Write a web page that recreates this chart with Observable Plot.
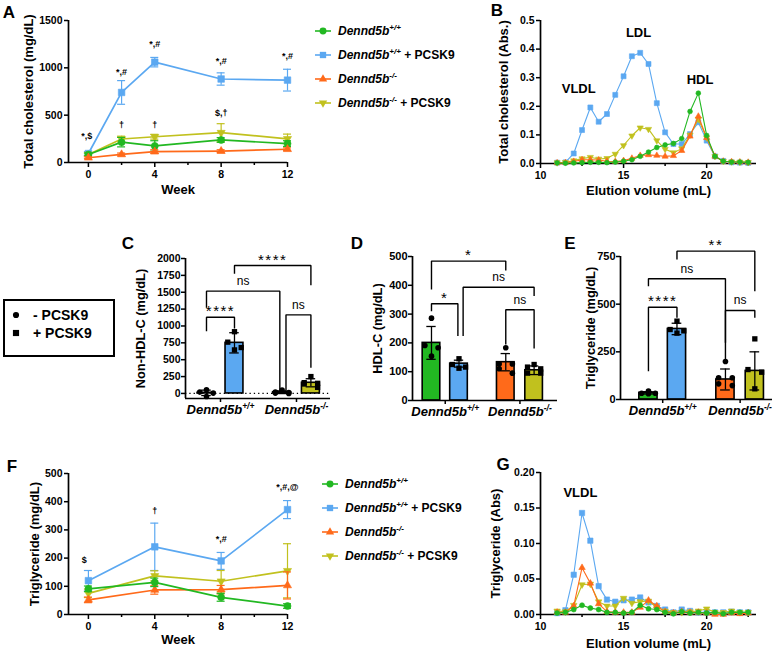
<!DOCTYPE html>
<html><head><meta charset="utf-8">
<script src="https://cdn.jsdelivr.net/npm/d3@7"></script>
<script src="https://cdn.jsdelivr.net/npm/@observablehq/plot@0.6"></script>
<style>
body{margin:0;background:#fff;}
#fig{position:relative;width:774px;height:654px;overflow:hidden;background:#fff;font-family:"Liberation Sans",Arial,Helvetica,sans-serif;color:#000;}
#fig sup{font-size:8px;line-height:0;vertical-align:5px;}
</style></head>
<body><div id="fig"></div>
<script>
// ---------------- DATA ----------------
const seriesNames = ["Dennd5b+/+", "Dennd5b+/+ + PCSK9", "Dennd5b-/-", "Dennd5b-/- + PCSK9"];
const seriesColors = ["#22b822", "#5ba8f1", "#ff6a1a", "#c1c11e"];
const genotypeLabels = ["Dennd5b+/+", "Dennd5b-/-"];
const pcsk9Labels = ["- PCSK9", "+ PCSK9"];

// Panel A: total cholesterol (mg/dL) by week
const weeksA = [0, 2, 4, 8, 12];
const tcWT = [85, 215, 175, 238, 200];
const tcWTsd = [15, 50, 55, 25, 30];
const tcWTP = [95, 740, 1060, 882, 870];
const tcWTPsd = [20, 125, 50, 65, 115];
const tcKO = [50, 85, 115, 120, 140];
const tcKOsd = [10, 15, 20, 15, 15];
const tcKOP = [85, 248, 272, 315, 250];
const tcKOPsd = [15, 30, 25, 95, 50];
const annA = [["*,$", -0.1, 275], ["*,#", 2, 950], ["*,#", 4, 1246], ["*,#", 8, 1067], ["*,#", 12, 1120], ["†", 2, 390], ["†", 4, 390], ["$,†", 8, 518]];

// Panels B & G: FPLC fractions
const elution = [11, 11.5, 12, 12.5, 13, 13.5, 14, 14.5, 15, 15.5, 16, 16.5, 17, 17.5, 18, 18.5, 19, 19.5, 20, 20.5, 21, 21.5, 22, 22.5];
const fpTcWT  = [0.002, 0.001, 0.002, 0.003, 0.004, 0.004, 0.003, 0.005, 0.008, 0.013, 0.025, 0.040, 0.056, 0.065, 0.070, 0.087, 0.182, 0.246, 0.098, 0.025, 0.008, 0.005, 0.005, 0.004];
const fpTcWTP = [0.003, 0.004, 0.035, 0.117, 0.196, 0.146, 0.173, 0.240, 0.305, 0.375, 0.387, 0.348, 0.211, 0.109, 0.068, 0.068, 0.103, 0.144, 0.080, 0.025, 0.009, 0.004, 0.003, 0.002];
const fpTcKO  = [0.002, 0.003, 0.007, 0.013, 0.013, 0.012, 0.008, 0.007, 0.010, 0.018, 0.028, 0.030, 0.028, 0.025, 0.027, 0.045, 0.095, 0.165, 0.090, 0.025, 0.008, 0.006, 0.005, 0.004];
const fpTcKOP = [0.003, 0.004, 0.010, 0.017, 0.022, 0.016, 0.018, 0.033, 0.063, 0.097, 0.125, 0.120, 0.080, 0.050, 0.038, 0.052, 0.100, 0.155, 0.090, 0.025, 0.008, 0.006, 0.005, 0.004];
const labelsB = [["VLDL", 12.3, 0.26], ["LDL", 15.9, 0.457], ["HDL", 19.6, 0.293]];

const fpTgWT  = [0.002, 0.003, 0.007, 0.013, 0.009, 0.007, 0.003, 0.003, 0.002, 0.003, 0.013, 0.008, 0.007, 0.003, 0.001, 0.004, 0.002, 0.003, 0.002, 0.003, 0.001, 0.003, 0.003, 0.003];
const fpTgWTP = [0.002, 0.006, 0.056, 0.143, 0.104, 0.040, 0.021, 0.018, 0.020, 0.021, 0.024, 0.017, 0.012, 0.007, 0.003, 0.007, 0.005, 0.003, 0.003, 0.003, 0.003, 0.004, 0.003, 0.003];
const fpTgKO  = [0.003, 0.003, 0.012, 0.066, 0.044, 0.015, 0.004, 0.003, 0.003, 0.003, 0.010, 0.020, 0.012, 0.004, 0.002, 0.004, 0.003, 0.003, 0.002, 0.000, 0.000, 0.002, 0.001, 0.002];
const fpTgKOP = [0.005, 0.004, 0.013, 0.042, 0.043, 0.018, 0.012, 0.012, 0.023, 0.016, 0.018, 0.019, 0.010, 0.005, 0.003, 0.003, 0.004, 0.005, 0.008, 0.003, 0.003, 0.005, 0.003, 0.003];
const labelsG = [["VLDL", 12.4, 0.172]];

// Panel C: non-HDL-C (mg/dL)
const nonHdlPoints = [[55, -45, 20, 5], [915, 760, 680, 645], [50, 20, 15, 5, 0], [250, 160, 150, 140, 90]];
const nonHdlMean = [9, 750, 18, 158];
const nonHdlSd = [40, 150, 20, 60];
// brackets: [from, to, top, leftEnd, rightEnd, label]
const bracketsC = [[0, 1, 1130, 933, 973, "****"], [0, 2, 1516, 1279, 44, "ns"], [1, 3, 1896, 1783, 1615, "****"], [2, 3, 1165, 44, 390, "ns"]];

// Panel D: HDL-C (mg/dL)
const hdlPoints = [[286, 191, 183, 154], [145, 125, 116, 112], [183, 127, 127, 110, 95], [125, 116, 110, 95, 95]];
const hdlMean = [200, 128, 133, 105];
const hdlSd = [57, 12, 30, 15];
const bracketsD = [[0, 1, 336, 312, 226, "*"], [0, 2, 484, 388, 454, "*"], [1, 3, 393, 226, 365, "ns"], [2, 3, 315, 197, 183, "ns"]];

// Panel E: triglyceride (mg/dL)
const tgPoints = [[44, 33, 33, 30], [411, 367, 360, 348], [199, 114, 114, 82, 73], [318, 157, 143, 56]];
const tgMean = [35, 370, 105, 150];
const tgSd = [6, 30, 55, 100];
const bracketsE = [[0, 1, 484, 152, 432, "****"], [0, 2, 633, 598, 213, "ns"], [1, 3, 778, 738, 572, "**"], [2, 3, 467, 301, 432, "ns"]];

// Panel F: triglyceride (mg/dL) by week
const weeksF = [0, 4, 8, 12];
const tgWT = [91, 114, 61, 30];
const tgWTsd = [10, 15, 14, 8];
const tgWTP = [120, 240, 190, 372];
const tgWTPsd = [36, 84, 30, 32];
const tgKO = [52, 87, 88, 103];
const tgKOsd = [10, 15, 15, 48];
const tgKOP = [75, 137, 118, 155];
const tgKOPsd = [15, 18, 38, 96];
const annF = [["$", -0.25, 193], ["†", 4, 365], ["*,#", 8, 268], ["*,#,@", 12, 450]];

// ---------------- HELPERS ----------------
const FONT = "'Liberation Sans', Arial, Helvetica, sans-serif";
const fig = document.getElementById("fig");
const sqrt3 = Math.sqrt(3);
const triDown = {draw(ctx, size) { const y = -Math.sqrt(size / (sqrt3 * 3)); ctx.moveTo(0, -y * 2); ctx.lineTo(-sqrt3 * y, y); ctx.lineTo(sqrt3 * y, y); ctx.closePath(); }};
const SYMBOLS = ["circle", "square", "triangle", triDown];
const D3SYM = [d3.symbolCircle, d3.symbolSquare, d3.symbolTriangle, triDown];
const baseStyle = {fontFamily: FONT, fontSize: "11px", fontWeight: "bold", color: "black", background: "transparent", overflow: "visible"};
const SVGNS = "http://www.w3.org/2000/svg";
const plain = d => String(d);

function place(el, left, top) {
  el.style.position = "absolute"; el.style.left = left + "px"; el.style.top = top + "px";
  fig.appendChild(el);
}
function addText(txt, x, y, css) {
  const d = document.createElement("div");
  d.textContent = txt;
  d.style.cssText = `position:absolute;left:${x}px;top:${y}px;transform:translate(-50%,-50%);line-height:1;white-space:nowrap;font-family:${FONT};${css}`;
  fig.appendChild(d);
}
function postProcess(svg) {
  svg.querySelectorAll("text").forEach(t => {
    const m = /^(Dennd5b)([+\-]\/[+\-])$/.exec(t.textContent);
    if (m) {
      while (t.firstChild) t.removeChild(t.firstChild);
      const a = document.createElementNS(SVGNS, "tspan"); a.textContent = m[1];
      const b = document.createElementNS(SVGNS, "tspan"); b.textContent = m[2];
      b.setAttribute("dy", "-5"); b.setAttribute("font-size", "8.5");
      t.append(a, b);
      t.setAttribute("font-style", "italic");
    }
    if (/^\*+$/.test(t.textContent)) t.style.letterSpacing = "1.5px";
  });
}
function labelHTML(name) {
  const m = /^(Dennd5b)([+\-]\/[+\-])(.*)$/.exec(name);
  return `<i>${m[1]}<sup>${m[2]}</sup></i>${m[3]}`;
}

function xyPanel(c) {
  const [mT, mR, mB, mL] = c.margin;
  const pxPerX = (c.width - mL - mR) / (c.xDomain[1] - c.xDomain[0]);
  const capW = 4 / pxPerX;
  const marks = [
    Plot.ruleX([c.xDomain[0]], {strokeWidth: 1.7}),
    Plot.ruleY([c.yDomain[0]], {strokeWidth: 1.7}),
    Plot.axisY({ticks: c.yTicks, tickSize: 4, tickPadding: 2, strokeWidth: 1.5, label: null, fontSize: 10.5, tickFormat: c.yFormat || plain}),
    Plot.axisX({ticks: c.xTicks, tickSize: 5, tickPadding: 3, strokeWidth: 1.5, label: null, fontSize: 10.5, tickFormat: plain})
  ];
  if (c.xMinor) marks.push(Plot.axisX({ticks: c.xMinor, tickSize: 3, strokeWidth: 1.5, tickFormat: () => "", label: null}));
  for (const s of c.order) {
    const rows = c.xs.map((x, i) => ({x, y: c.means[s][i], sd: c.sds ? c.sds[s][i] : 0}));
    if (c.sds) {
      marks.push(Plot.ruleX(rows, {x: "x", y1: d => d.y - d.sd, y2: d => d.y + d.sd, stroke: seriesColors[s], strokeWidth: 1.2}));
      marks.push(Plot.ruleY(rows, {y: d => d.y + d.sd, x1: d => d.x - capW, x2: d => d.x + capW, stroke: seriesColors[s], strokeWidth: 1.2}));
      marks.push(Plot.ruleY(rows, {y: d => d.y - d.sd, x1: d => d.x - capW, x2: d => d.x + capW, stroke: seriesColors[s], strokeWidth: 1.2}));
    }
    marks.push(Plot.line(rows, {x: "x", y: "y", stroke: seriesColors[s], strokeWidth: c.lineWidth}));
    marks.push(Plot.dot(rows, {x: "x", y: "y", symbol: SYMBOLS[s], r: c.r[s], fill: seriesColors[s], stroke: seriesColors[s], strokeWidth: 0.6}));
  }
  if (c.ann) marks.push(Plot.text(c.ann, {x: d => d[1], y: d => d[2], text: d => d[0], fontSize: c.annSize, fontWeight: "bold"}));
  marks.push(Plot.text([c.ytitle], {frameAnchor: "left", textAnchor: "middle", dx: c.ytitleDx, rotate: -90, fontSize: 13, fontWeight: "bold"}));
  marks.push(Plot.text([c.xtitle], {frameAnchor: "bottom", textAnchor: "middle", dy: c.xtitleDy, fontSize: 13, fontWeight: "bold"}));
  const svg = Plot.plot({
    width: c.width, height: c.height, marginTop: mT, marginRight: mR, marginBottom: mB, marginLeft: mL,
    x: {domain: c.xDomain}, y: {domain: c.yDomain}, style: baseStyle, marks
  });
  postProcess(svg);
  place(svg, c.left, c.top);
}

const POS = [0, 1, 2.7, 3.73];
const BW = 0.32;
const JIT = {4: [0, -0.24, 0.24, 0], 5: [0, -0.24, 0.24, -0.24, 0.24]};

function barPanel(c) {
  const [mT, mR, mB, mL] = c.margin;
  const groups = c.means.map((m, i) => ({i, pos: POS[i], mean: m, sd: c.sds[i], color: seriesColors[i]}));
  const pts = [];
  c.points.forEach((arr, i) => {
    const sorted = arr.slice().sort((a, b) => b - a);
    const jit = JIT[sorted.length] || JIT[5];
    sorted.forEach((v, k) => pts.push({i, v, x: POS[i] + jit[k]}));
  });
  const nud = c.nudge || {};
  const br = c.brackets.map((b, k) => {
    const [oa, ob] = nud[k] || [0, 0];
    return {k, xa: POS[b[0]] + oa, xb: POS[b[1]] + ob, top: b[2], la: b[3], lb: b[4], label: b[5]};
  });
  const bl = [];
  br.forEach(b => bl.push({k: b.k, x: b.xa, y: b.la}, {k: b.k, x: b.xa, y: b.top}, {k: b.k, x: b.xb, y: b.top}, {k: b.k, x: b.xb, y: b.lb}));
  const marks = [];
  if (c.zeroLine) marks.push(Plot.ruleY([0], {strokeDasharray: "1.3,3", strokeWidth: 1.3}));
  marks.push(
    Plot.rect(groups, {x1: d => d.pos - BW, x2: d => d.pos + BW, y1: 0, y2: "mean", fill: "color", stroke: "black", strokeWidth: 1.6}),
    Plot.ruleX(groups, {x: "pos", y1: d => d.mean - d.sd, y2: d => d.mean + d.sd, strokeWidth: 1.3}),
    Plot.ruleY(groups, {y: d => d.mean + d.sd, x1: d => d.pos - 0.17, x2: d => d.pos + 0.17, strokeWidth: 1.3}),
    Plot.ruleY(groups, {y: d => d.mean - d.sd, x1: d => d.pos - 0.17, x2: d => d.pos + 0.17, strokeWidth: 1.3}),
    Plot.dot(pts.filter(d => d.i % 2 === 0), {x: "x", y: "v", r: 2.8, fill: "black", symbol: "circle"}),
    Plot.dot(pts.filter(d => d.i % 2 === 1), {x: "x", y: "v", r: 3.0, fill: "black", symbol: "square"}),
    Plot.line(bl, {x: "x", y: "y", z: "k", strokeWidth: 1.4, strokeLinejoin: "miter", strokeLinecap: "square"}),
    Plot.text(br.filter(b => b.label.startsWith("*")), {x: b => (b.xa + b.xb) / 2, y: "top", text: "label", lineAnchor: "bottom", dy: -1, fontSize: 15, fontWeight: "normal"}),
    Plot.text(br.filter(b => !b.label.startsWith("*")), {x: b => (b.xa + b.xb) / 2, y: "top", text: "label", lineAnchor: "bottom", dy: -6, fontSize: 12, fontWeight: "normal"}),
    Plot.ruleX([c.xDomain[0]], {strokeWidth: 1.7}),
    Plot.ruleY([c.yDomain[0]], {strokeWidth: 1.7}),
    Plot.axisY({ticks: c.yTicks, tickSize: 4, tickPadding: 1, strokeWidth: 1.5, label: null, fontSize: c.tickFont, tickFormat: plain}),
    Plot.axisX({ticks: [(POS[0] + POS[1]) / 2, (POS[2] + POS[3]) / 2], tickSize: 4, tickPadding: 2, strokeWidth: 1.5, label: null, fontSize: 13,
      tickFormat: d => d < 2 ? genotypeLabels[0] : genotypeLabels[1]}),
    Plot.text([c.ytitle], {frameAnchor: "left", textAnchor: "middle", dx: c.ytitleDx, rotate: -90, fontSize: 12.8, fontWeight: "bold"})
  );
  const svg = Plot.plot({
    width: c.width, height: c.height, marginTop: mT, marginRight: mR, marginBottom: mB, marginLeft: mL,
    x: {domain: c.xDomain}, y: {domain: c.yDomain}, color: {type: "identity"}, style: baseStyle, marks
  });
  postProcess(svg);
  place(svg, c.left, c.top);
}

function legend(x, y0, step, lineW, gap) {
  seriesNames.forEach((name, i) => {
    const row = document.createElement("div");
    row.style.cssText = `position:absolute;left:${x}px;top:${y0 + i * step - 8}px;height:16px;display:flex;align-items:center;font:bold 12px ${FONT};white-space:nowrap;`;
    const size = i === 1 ? 40 : i === 0 ? 38 : 30;
    const path = d3.symbol().type(D3SYM[i]).size(size)();
    row.innerHTML = `<svg width="${lineW}" height="12" style="overflow:visible;margin-right:${gap}px"><line x1="0" x2="${lineW}" y1="6" y2="6" stroke="${seriesColors[i]}" stroke-width="1.6"/><path d="${path}" transform="translate(${lineW / 2},6)" fill="${seriesColors[i]}"/></svg><span>${labelHTML(name)}</span>`;
    fig.appendChild(row);
  });
}

// ---------------- PANELS ----------------
xyPanel({left: 0, top: 0, width: 300, height: 205, margin: [20, 13, 43, 68],
  xDomain: [-1.2, 12], yDomain: [0, 1500], yTicks: [0, 500, 1000, 1500], xTicks: [0, 4, 8, 12], xMinor: [2, 6, 10],
  xs: weeksA, means: [tcWT, tcWTP, tcKO, tcKOP], sds: [tcWTsd, tcWTPsd, tcKOsd, tcKOPsd], order: [1, 3, 0, 2],
  r: [3.5, 3.7, 3.0, 3.0], lineWidth: 1.7, ann: annA, annSize: 9,
  ytitle: "Total cholesterol (mg/dL)", ytitleDx: -40, xtitle: "Week", xtitleDy: 31});

xyPanel({left: 500, top: 0, width: 274, height: 205, margin: [20, 18, 42, 40],
  xDomain: [10, 23], yDomain: [0, 0.5], yTicks: [0, 0.1, 0.2, 0.3, 0.4, 0.5], yFormat: d3.format(".1f"), xTicks: [10, 15, 20], xMinor: [12.5, 17.5, 22.5],
  xs: elution, means: [fpTcWT, fpTcWTP, fpTcKO, fpTcKOP], order: [1, 3, 2, 0],
  r: [2.4, 2.8, 2.3, 2.3], lineWidth: 1.1, ann: labelsB, annSize: 13,
  ytitle: "Total cholesterol (Abs.)", ytitleDx: -37, xtitle: "Elution volume (mL)", xtitleDy: 31});

barPanel({left: 100, top: 225, width: 240, height: 200, margin: [33, 10, 27, 85],
  xDomain: [-0.75, 4.43], yDomain: [-75, 2000], yTicks: [0, 250, 500, 750, 1000, 1250, 1500, 1750, 2000], tickFont: 10.5,
  means: nonHdlMean, sds: nonHdlSd, points: nonHdlPoints, brackets: bracketsC, nudge: {1: [0, -0.08], 3: [0.14, 0]},
  zeroLine: true, ytitle: "Non-HDL-C (mg/dL)", ytitleDx: -45});

barPanel({left: 370, top: 225, width: 200, height: 200, margin: [31, 13, 25, 42],
  xDomain: [-0.69, 4.58], yDomain: [0, 500], yTicks: [0, 100, 200, 300, 400, 500], tickFont: 11,
  means: hdlMean, sds: hdlSd, points: hdlPoints, brackets: bracketsD, nudge: {0: [0, -0.04], 2: [0.15, 0]},
  ytitle: "HDL-C (mg/dL)", ytitleDx: -35});

barPanel({left: 570, top: 225, width: 204, height: 200, margin: [31, 2, 26, 50],
  xDomain: [-0.98, 4.35], yDomain: [0, 750], yTicks: [0, 250, 500, 750], tickFont: 11,
  means: tgMean, sds: tgSd, points: tgPoints, brackets: bracketsE,
  ytitle: "Triglyceride (mg/dL)", ytitleDx: -30});

xyPanel({left: 0, top: 440, width: 300, height: 214, margin: [33, 13, 40, 68],
  xDomain: [-1.2, 12], yDomain: [0, 500], yTicks: [0, 100, 200, 300, 400, 500], xTicks: [0, 4, 8, 12], xMinor: [2, 6, 10],
  xs: weeksF, means: [tgWT, tgWTP, tgKO, tgKOP], sds: [tgWTsd, tgWTPsd, tgKOsd, tgKOPsd], order: [1, 3, 2, 0],
  r: [3.5, 3.7, 3.0, 3.0], lineWidth: 1.7, ann: annF, annSize: 9,
  ytitle: "Triglyceride (mg/dL)", ytitleDx: -34, xtitle: "Week", xtitleDy: 29});

xyPanel({left: 500, top: 440, width: 274, height: 214, margin: [32, 18, 40, 40],
  xDomain: [10, 23], yDomain: [0, 0.2], yTicks: [0, 0.05, 0.1, 0.15, 0.2], yFormat: d3.format(".2f"), xTicks: [10, 15, 20], xMinor: [12.5, 17.5, 22.5],
  xs: elution, means: [fpTgWT, fpTgWTP, fpTgKO, fpTgKOP], order: [1, 3, 2, 0],
  r: [2.5, 3.0, 2.4, 2.4], lineWidth: 1.1, ann: labelsG, annSize: 13,
  ytitle: "Triglyceride (Abs)", ytitleDx: -45, xtitle: "Elution volume (mL)", xtitleDy: 33});

// legends
legend(315, 31, 24, 16, 7);
legend(322, 484, 24, 16, 7);

// PCSK9 symbol box
const box = document.createElement("div");
box.style.cssText = "position:absolute;left:3px;top:299px;width:112px;height:58px;border:2.5px solid #000;box-sizing:border-box;";
fig.appendChild(box);
pcsk9Labels.forEach((lab, i) => {
  const y = i === 0 ? 315 : 333;
  const s = document.createElementNS(SVGNS, "svg");
  s.setAttribute("width", 12); s.setAttribute("height", 12);
  const p = document.createElementNS(SVGNS, "path");
  p.setAttribute("d", d3.symbol().type(i === 0 ? d3.symbolCircle : d3.symbolSquare).size(i === 0 ? 30 : 38)());
  p.setAttribute("transform", "translate(6,6)");
  s.appendChild(p);
  s.style.cssText = `position:absolute;left:10px;top:${y - 6}px;`;
  fig.appendChild(s);
  const t = document.createElement("div");
  t.textContent = lab;
  t.style.cssText = `position:absolute;left:33px;top:${y - 8}px;line-height:16px;font:bold 14px ${FONT};white-space:nowrap;`;
  fig.appendChild(t);
});

// panel letters
const letterCss = "font-weight:bold;font-size:17px;";
[["A", 9, 12], ["B", 497, 10], ["C", 128, 243], ["D", 357, 243], ["E", 570, 243], ["F", 12, 466], ["G", 503, 464]].forEach(([l, x, y]) => addText(l, x, y, letterCss));
</script></body></html>
